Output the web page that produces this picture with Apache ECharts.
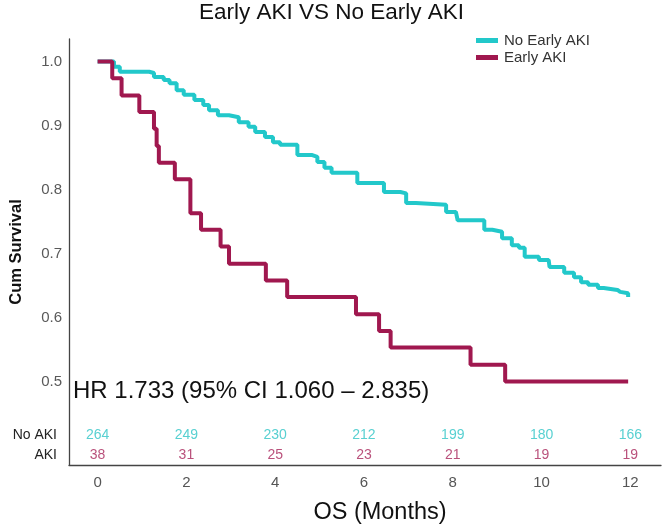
<!DOCTYPE html>
<html>
<head>
<meta charset="utf-8">
<script src="https://cdn.jsdelivr.net/npm/echarts@6/dist/echarts.min.js"></script>
<style>
html,body{margin:0;padding:0;background:#fff;}
#chart{width:663px;height:527px;}
</style>
</head>
<body>
<div id="chart"></div>
<script>
// ---- Data ----
const seriesNames = ['No Early AKI', 'Early AKI'];

const noAkiTime = [0, 0.37, 0.50, 1.16, 1.27, 1.49, 1.62, 1.78, 1.94, 2.18, 2.38, 2.51, 2.71, 2.96, 3.18, 3.40, 3.55, 3.77, 3.95, 4.11, 4.50, 4.82, 4.95, 5.11, 5.27, 5.85, 6.45, 6.82, 6.95, 7.17, 7.85, 8.07, 8.11, 8.71, 8.89, 9.11, 9.33, 9.49, 9.62, 9.94, 10.16, 10.18, 10.51, 10.73, 10.89, 11.05, 11.27, 11.40, 11.71, 11.77, 11.95];
const noAkiSurv = [1.000, 0.992, 0.984, 0.982, 0.976, 0.971, 0.966, 0.955, 0.948, 0.940, 0.932, 0.924, 0.916, 0.913, 0.905, 0.898, 0.890, 0.882, 0.874, 0.870, 0.854, 0.851, 0.843, 0.834, 0.826, 0.810, 0.796, 0.794, 0.779, 0.776, 0.765, 0.763, 0.752, 0.737, 0.734, 0.724, 0.713, 0.709, 0.695, 0.690, 0.687, 0.679, 0.670, 0.663, 0.655, 0.651, 0.646, 0.643, 0.640, 0.638, 0.632];

const akiTime = [0, 0.33, 0.54, 0.94, 1.27, 1.33, 1.38, 1.74, 2.09, 2.33, 2.77, 2.96, 3.79, 4.27, 5.82, 6.34, 6.60, 8.40, 9.18, 11.95];
const akiSurv = [1.000, 0.974, 0.947, 0.921, 0.895, 0.868, 0.842, 0.816, 0.763, 0.737, 0.711, 0.684, 0.658, 0.632, 0.605, 0.579, 0.553, 0.526, 0.500, 0.500];

const riskTimes = [0, 2, 4, 6, 8, 10, 12];
const noAkiRisk = [264, 249, 230, 212, 199, 180, 166];
const akiRisk = [38, 31, 25, 23, 21, 19, 19];
const riskRowLabels = ['No AKI', 'AKI'];

const xTickLabels = [0, 2, 4, 6, 8, 10, 12];
const yTickLabels = [0.5, 0.6, 0.7, 0.8, 0.9, 1.0];

const titleText = 'Early AKI VS No Early AKI';
const hrText = 'HR 1.733 (95% CI 1.060 \u2013 2.835)';
const xName = 'OS (Months)';
const yName = 'Cum Survival';

// ---- Style / layout ----
const CYAN = '#22C8CA';
const RED = '#A0184F';
const CYAN_TXT = '#2EC4C6';
const RED_TXT = '#A8255A';
const FONT = 'Liberation Sans, Arial, sans-serif';
const ROW_NO = 0.4164;   // y position (axis units) of the at-risk rows
const ROW_AKI = 0.3852;

const chart = echarts.init(document.getElementById('chart'), null, {renderer: 'canvas'});

const option = {
  animation: false,
  backgroundColor: '#fff',
  textStyle: {fontFamily: FONT},
  title: {
    text: titleText,
    left: 'center',
    top: 1,
    padding: 0,
    textStyle: {fontFamily: FONT, fontSize: 22.5, fontWeight: 'normal', color: '#111'}
  },
  legend: {
    data: seriesNames,
    orient: 'vertical',
    left: 476,
    top: 33,
    padding: 0,
    itemGap: 2,
    itemWidth: 22,
    itemHeight: 5,
    icon: 'rect',
    textStyle: {fontFamily: FONT, fontSize: 15, color: '#333', lineHeight: 14, padding: [0, 0, 0, 1]}
  },
  grid: {left: 61, right: 2, top: 39, bottom: 62, containLabel: false},
  xAxis: {
    type: 'value',
    min: -0.644,
    max: 12.69,
    axisLine: {show: true, onZero: false, lineStyle: {color: '#444', width: 1.3}},
    axisTick: {show: false},
    splitLine: {show: false},
    axisLabel: {
      customValues: xTickLabels,
      fontFamily: FONT, fontSize: 15, color: '#555', margin: 10
    }
  },
  yAxis: {
    type: 'value',
    min: 0.3695,
    max: 1.0352,
    name: yName,
    nameLocation: 'middle',
    nameGap: 44,
    nameTextStyle: {fontFamily: FONT, fontSize: 16.5, fontWeight: 'bold', color: '#111'},
    axisLine: {show: true, onZero: false, lineStyle: {color: '#444', width: 1.3}},
    axisTick: {show: false},
    splitLine: {show: false},
    axisLabel: {
      customValues: yTickLabels,
      formatter: v => v.toFixed(1),
      fontFamily: FONT, fontSize: 15, color: '#595959', margin: 7
    }
  },
  series: [
    {
      name: seriesNames[0],
      type: 'line',
      step: 'end',
      showSymbol: false,
      symbol: 'none',
      data: noAkiTime.map((t, i) => [t, noAkiSurv[i]]),
      lineStyle: {color: CYAN, width: 4},
      itemStyle: {color: CYAN},
      z: 2
    },
    {
      name: seriesNames[1],
      type: 'line',
      step: 'end',
      showSymbol: false,
      symbol: 'none',
      data: akiTime.map((t, i) => [t, akiSurv[i]]),
      lineStyle: {color: RED, width: 4},
      itemStyle: {color: RED},
      z: 3
    },
    {
      name: 'riskNo',
      type: 'scatter',
      symbolSize: 0,
      data: riskTimes.map((t, i) => [t, ROW_NO, noAkiRisk[i]]),
      label: {show: true, position: 'inside', formatter: p => String(p.value[2]),
              fontFamily: FONT, fontSize: 14, color: CYAN_TXT},
      silent: true
    },
    {
      name: 'riskAki',
      type: 'scatter',
      symbolSize: 0,
      data: riskTimes.map((t, i) => [t, ROW_AKI, akiRisk[i]]),
      label: {show: true, position: 'inside', formatter: p => String(p.value[2]),
              fontFamily: FONT, fontSize: 14, color: RED_TXT},
      silent: true
    }
  ],
  graphic: [
    {type: 'text', left: 73, top: 379,
     style: {text: hrText, fontFamily: FONT, fontSize: 24, fill: '#111'}},
    {type: 'text', x: 380, y: 513,
     style: {text: xName, fontFamily: FONT, fontSize: 23.5, fill: '#111', align: 'center', verticalAlign: 'middle'}},
    {type: 'text', x: 57, y: 435,
     style: {text: riskRowLabels[0], fontFamily: FONT, fontSize: 14, fill: '#222', align: 'right', verticalAlign: 'middle'}},
    {type: 'text', x: 57, y: 455,
     style: {text: riskRowLabels[1], fontFamily: FONT, fontSize: 14, fill: '#222', align: 'right', verticalAlign: 'middle'}}
  ]
};

chart.setOption(option);
</script>
</body>
</html>
